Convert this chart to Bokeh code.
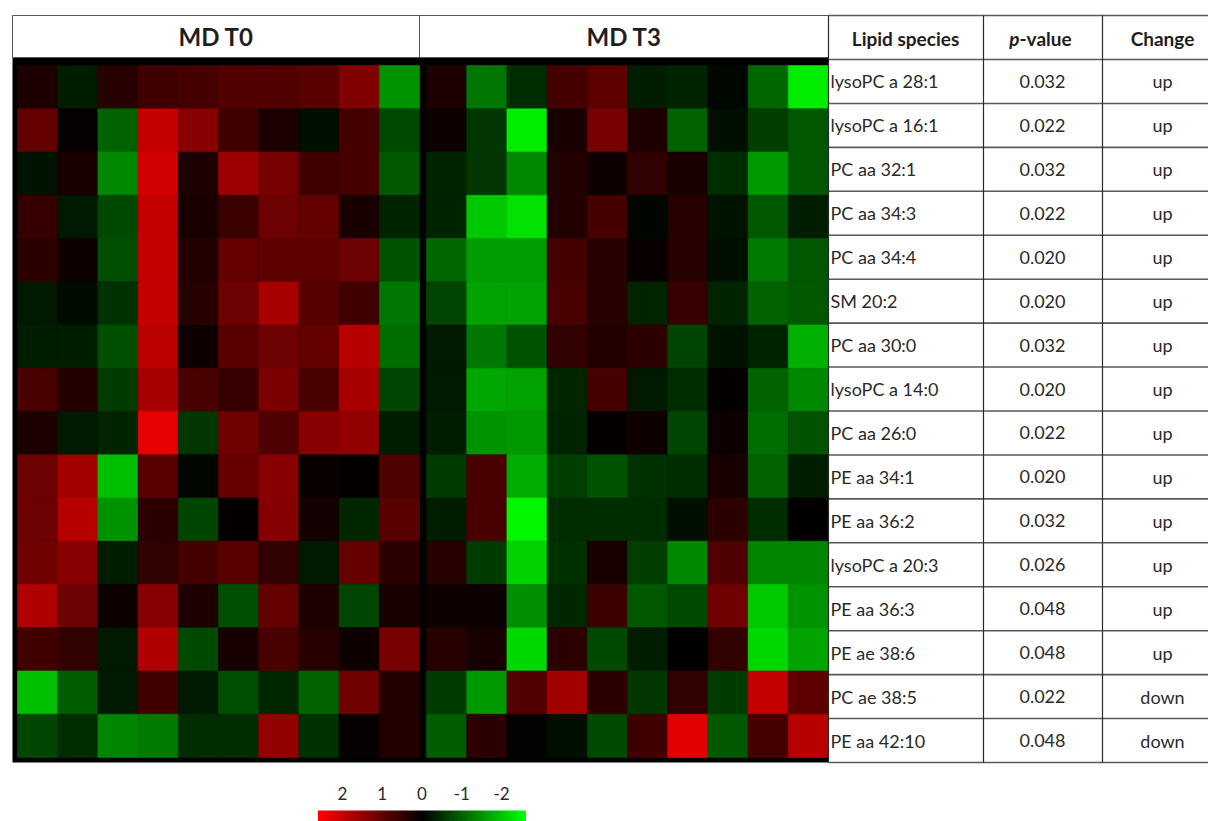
import numpy as np
from bokeh.plotting import figure
from bokeh.models import Range1d, ColumnDataSource, LinearColorMapper
from bokeh.transform import transform
from bokeh.core.properties import value
from bokeh.embed import file_html
from bokeh.resources import INLINE

# ---------------------------------------------------------------- data
groups = ["MD T0", "MD T3"]

lipids = [
    "lysoPC a 28:1", "lysoPC a 16:1", "PC aa 32:1", "PC aa 34:3",
    "PC aa 34:4", "SM 20:2", "PC aa 30:0", "lysoPC a 14:0",
    "PC aa 26:0", "PE aa 34:1", "PE aa 36:2", "lysoPC a 20:3",
    "PE aa 36:3", "PE ae 38:6", "PC ae 38:5", "PE aa 42:10",
]
p_values = [
    "0.032", "0.022", "0.032", "0.022", "0.020", "0.020", "0.032", "0.020",
    "0.022", "0.020", "0.032", "0.026", "0.048", "0.048", "0.022", "0.048",
]
changes = ["up"] * 14 + ["down", "down"]
scale_ticks = [2, 1, 0, -1, -2]

# z-scores per lipid (rows) and subject (columns)
md_t0 = [
    [0.30, -0.30, 0.40, 0.65, 0.70, 0.85, 0.85, 0.90, 1.30, -1.50],
    [1.00, 0.08, -1.00, 2.00, 1.40, 0.65, 0.30, -0.15, 0.70, -0.75],
    [-0.20, 0.25, -1.40, 2.15, 0.30, 1.60, 1.20, 0.65, 0.70, -0.90],
    [0.55, -0.25, -0.75, 2.00, 0.25, 0.60, 1.10, 1.00, 0.25, -0.35],
    [0.45, 0.15, -0.80, 2.00, 0.35, 1.00, 0.95, 0.95, 1.10, -0.85],
    [-0.25, -0.12, -0.50, 2.00, 0.40, 1.10, 1.70, 0.88, 0.65, -1.20],
    [-0.30, -0.30, -0.80, 1.90, 0.15, 0.90, 1.10, 1.00, 1.85, -1.10],
    [0.75, 0.35, -0.60, 1.70, 0.75, 0.55, 1.25, 0.75, 1.70, -0.70],
    [0.30, -0.25, -0.35, 2.35, -0.55, 1.15, 0.80, 1.40, 1.50, -0.30],
    [1.10, 1.65, -1.95, 0.90, -0.08, 1.00, 1.40, 0.12, 0.05, 0.80],
    [1.10, 1.85, -1.50, 0.45, -0.70, 0.05, 1.35, 0.20, -0.40, 0.90],
    [1.15, 1.40, -0.30, 0.50, 0.70, 0.90, 0.50, -0.25, 1.05, 0.45],
    [1.80, 1.10, 0.15, 1.40, 0.30, -0.80, 1.00, 0.30, -0.70, 0.25],
    [0.65, 0.50, -0.25, 1.80, -0.75, 0.25, 0.75, 0.40, 0.15, 1.20],
    [-1.95, -0.95, -0.25, 0.65, -0.25, -0.80, -0.40, -1.00, 1.15, 0.35],
    [-0.70, -0.45, -1.35, -1.25, -0.45, -0.45, 1.50, -0.50, 0.08, 0.35],
]
md_t3 = [
    [0.30, -1.20, -0.45, 0.70, 0.95, -0.30, -0.35, -0.08, -1.05, -2.40],
    [0.15, -0.55, -2.40, 0.25, 1.20, 0.30, -1.00, -0.15, -0.65, -0.90],
    [-0.35, -0.55, -1.40, 0.35, 0.15, 0.50, 0.25, -0.45, -1.55, -0.90],
    [-0.35, -2.05, -2.30, 0.35, 0.70, -0.05, 0.40, -0.20, -0.90, -0.30],
    [-1.05, -1.60, -1.60, 0.70, 0.40, 0.10, 0.40, -0.15, -1.25, -0.90],
    [-0.70, -1.65, -1.65, 0.75, 0.40, -0.35, 0.55, -0.35, -1.00, -0.90],
    [-0.25, -1.20, -0.85, 0.50, 0.35, 0.45, -0.70, -0.20, -0.35, -1.80],
    [-0.25, -1.70, -1.65, -0.40, 0.70, -0.25, -0.45, 0.05, -1.00, -1.40],
    [-0.30, -1.50, -1.55, -0.35, 0.05, 0.15, -0.70, 0.15, -1.10, -0.85],
    [-0.60, 0.75, -1.75, -0.65, -0.85, -0.50, -0.45, 0.25, -1.00, -0.30],
    [-0.30, 0.75, -2.50, -0.45, -0.45, -0.45, -0.15, 0.45, -0.45, 0.03],
    [0.40, -0.60, -2.15, -0.50, 0.25, -0.65, -1.40, 0.80, -1.35, -1.35],
    [0.15, 0.15, -1.45, -0.40, 0.60, -0.90, -0.75, 1.15, -2.05, -1.50],
    [0.40, 0.25, -2.20, 0.45, -0.75, -0.30, 0.03, 0.50, -2.20, -1.65],
    [-0.60, -1.55, 0.85, 1.65, 0.45, -0.55, 0.50, -0.60, 2.00, 0.95],
    [-0.95, 0.45, -0.03, -0.15, -0.75, 0.65, 2.30, -0.90, 0.70, 1.85],
]

# ---------------------------------------------------------------- layout
W, H = 1208, 821
CELL_W, CELL_H = 40.2, 43.25          # pixels per heatmap cell
HM_LEFT, HM_TOP = 17, 65              # first cell corner
PANEL_GAP = 7 / CELL_W                # black divider between the groups
BOX_LEFT, BOX_MID, BOX_RIGHT = 12, 419, 828
HEAD_TOP, HEAD_BOTTOM, PANEL_BOTTOM = 15, 57, 762
TABLE_X = [828, 983, 1102, 1208]
TABLE_HEAD_BOTTOM = 59
SCALE_ZERO, SCALE_PX = 421.5, 39.8    # colour-scale placement
SCALE_LIM = 2.6

FONT = value("Lato")
INK = "#1e1e1e"


def red_green(n=256):
    cols = []
    for i in range(n):
        t = i / (n - 1) * 2 - 1
        if t < 0:
            cols.append("#00%02x00" % int(round(-t * 255)))
        else:
            cols.append("#%02x0000" % int(round(t * 255)))
    return cols


mapper = LinearColorMapper(palette=red_green(), low=-SCALE_LIM, high=SCALE_LIM)

p = figure(width=W, height=H, output_backend="svg", toolbar_location=None,
           x_range=Range1d(0, W), y_range=Range1d(H, 0),
           x_axis_location=None, y_axis_location=None,
           min_border=0, outline_line_color=None,
           background_fill_color="white", border_fill_color="white")
p.xgrid.visible = False
p.ygrid.visible = False

# heatmap coordinate systems: one unit = one cell
p.extra_x_ranges = {
    "cols": Range1d(-HM_LEFT / CELL_W, (W - HM_LEFT) / CELL_W),
    "scale": Range1d(SCALE_ZERO / SCALE_PX, (SCALE_ZERO - W) / SCALE_PX),
}
p.extra_y_ranges = {
    "rows": Range1d((H - HM_TOP) / CELL_H, -HM_TOP / CELL_H),
}

# ---------------------------------------------------------------- heatmap
p.quad(left=BOX_LEFT, right=BOX_RIGHT, top=HEAD_BOTTOM, bottom=PANEL_BOTTOM,
       fill_color="black", line_color=None)

xs, ys, vs = [], [], []
for g, block in enumerate([md_t0, md_t3]):
    offset = g * (10 + PANEL_GAP)
    for i, row in enumerate(block):
        for j, v in enumerate(row):
            xs.append(offset + j + 0.5)
            ys.append(i + 0.5)
            vs.append(v)
cells = ColumnDataSource(dict(x=xs, y=ys, v=vs))
p.rect(x="x", y="y", width=1, height=1, source=cells,
       fill_color=transform("v", mapper), line_color=transform("v", mapper),
       line_width=0.6, x_range_name="cols", y_range_name="rows")

# group headers
p.quad(left=[BOX_LEFT, BOX_MID], right=[BOX_MID, BOX_RIGHT],
       top=HEAD_TOP, bottom=HEAD_BOTTOM,
       fill_color="white", line_color="#555555", line_width=1)
p.text(x=[(BOX_LEFT + BOX_MID) / 2, (BOX_MID + BOX_RIGHT) / 2], y=[36, 36],
       text=groups, text_font=FONT, text_font_style="bold",
       text_font_size="24px", text_color=INK,
       text_align="center", text_baseline="middle")

# ---------------------------------------------------------------- table
row_edges = list(np.linspace(TABLE_HEAD_BOTTOM, PANEL_BOTTOM, len(lipids) + 1))
row_mid = [(a + b) / 2 for a, b in zip(row_edges[:-1], row_edges[1:])]

h_lines = [HEAD_TOP] + row_edges
p.segment(x0=[TABLE_X[0]] * len(h_lines), x1=[W] * len(h_lines),
          y0=h_lines, y1=h_lines, line_color="#5a5a5a", line_width=1.6)
p.segment(x0=TABLE_X[:3], x1=TABLE_X[:3], y0=[HEAD_TOP] * 3,
          y1=[PANEL_BOTTOM] * 3, line_color="#2a2a2a", line_width=1.2)

head_y = (HEAD_TOP + TABLE_HEAD_BOTTOM) / 2 + 1
p.text(x=[905, 1162], y=[head_y, head_y], text=["Lipid species", "Change"],
       text_font=FONT, text_font_style="bold", text_font_size="19px",
       text_color=INK, text_align="center", text_baseline="middle")
p.text(x=[1019], y=[head_y], text=["p"], text_font=FONT,
       text_font_style="bold italic", text_font_size="19px",
       text_color=INK, text_align="right", text_baseline="middle")
p.text(x=[1019], y=[head_y], text=["-value"], text_font=FONT,
       text_font_style="bold", text_font_size="19px",
       text_color=INK, text_align="left", text_baseline="middle")

n_rows = len(lipids)
body = ColumnDataSource(dict(
    y=row_mid, lipid=lipids, p=p_values, change=changes,
    x_name=[830] * n_rows, x_p=[1042] * n_rows, x_change=[1162] * n_rows))
common = dict(source=body, y="y", text_font=FONT, text_font_size="18px",
              text_color="#2a2a2a", text_baseline="middle")
p.text(x="x_name", text="lipid", text_align="left", **common)
p.text(x="x_p", text="p", text_align="center", **common)
p.text(x="x_change", text="change", text_align="center", **common)

# ---------------------------------------------------------------- colour scale
n_steps = 208
steps = np.linspace(SCALE_LIM, -SCALE_LIM, n_steps)
step_w = 2 * SCALE_LIM / (n_steps - 1)
strip = ColumnDataSource(dict(v=steps, y=[817] * n_steps))
p.rect(x="v", y="y", width=step_w * 1.05, height=14, source=strip,
       fill_color=transform("v", mapper), line_color=None,
       x_range_name="scale")
p.text(x=scale_ticks, y=[793] * len(scale_ticks),
       text=[str(t) for t in scale_ticks],
       text_font=FONT, text_font_size="17px", text_color="#2a2a2a",
       text_align="center", text_baseline="middle", x_range_name="scale")

open("out.html", "w").write(file_html(p, INLINE))
